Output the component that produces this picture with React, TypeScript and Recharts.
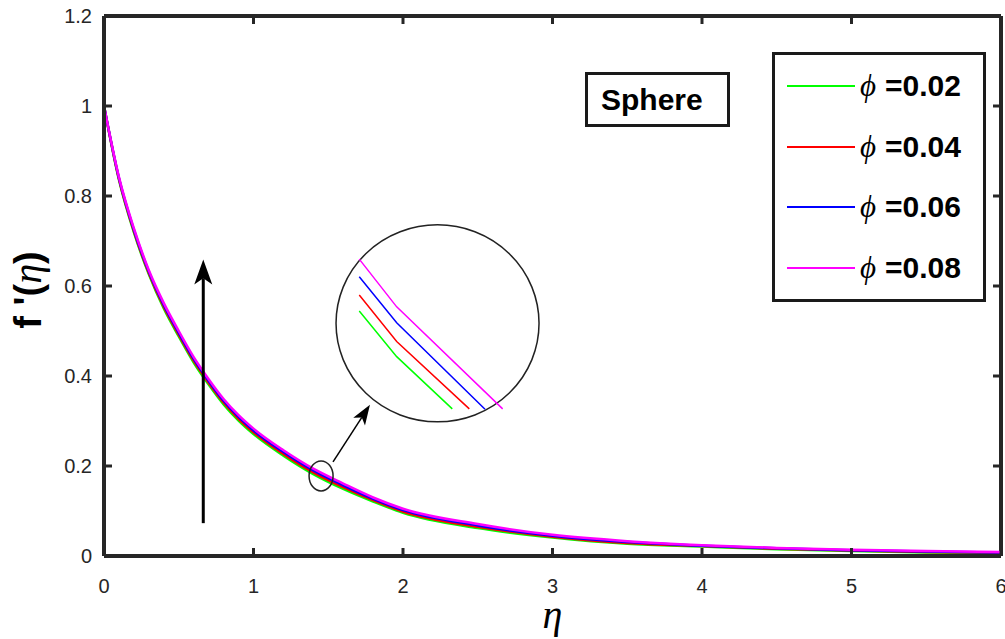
import { Label, Legend, Line, LineChart, ReferenceDot, ReferenceLine, XAxis, YAxis } from "recharts";

// similarity variable eta and f'(eta) for each volume fraction phi
const eta = [0, 0.1, 0.2, 0.3, 0.4, 0.5, 0.6, 0.7, 0.8, 0.9, 1.0, 1.2, 1.4, 1.6, 1.8, 2.0, 2.5, 3.0, 3.5, 4.0, 4.5, 5.0, 5.5, 6.0];
const phi002 = [1.0, 0.836, 0.719, 0.626, 0.55, 0.488, 0.43, 0.381, 0.337, 0.301, 0.271, 0.223, 0.182, 0.149, 0.121, 0.096, 0.062, 0.041, 0.027, 0.021, 0.015, 0.011, 0.008, 0.006];
const phi004 = [1.0, 0.838, 0.722, 0.629, 0.554, 0.492, 0.434, 0.385, 0.341, 0.305, 0.275, 0.227, 0.186, 0.153, 0.124, 0.099, 0.065, 0.043, 0.029, 0.022, 0.016, 0.012, 0.009, 0.007];
const phi006 = [1.0, 0.84, 0.725, 0.632, 0.558, 0.496, 0.438, 0.389, 0.345, 0.309, 0.279, 0.231, 0.19, 0.157, 0.127, 0.102, 0.068, 0.045, 0.031, 0.023, 0.017, 0.013, 0.01, 0.008];
const phi008 = [1.0, 0.842, 0.728, 0.635, 0.562, 0.5, 0.442, 0.393, 0.349, 0.313, 0.283, 0.235, 0.194, 0.161, 0.13, 0.105, 0.071, 0.047, 0.033, 0.024, 0.018, 0.014, 0.011, 0.009];

// magnified piece shown inside the circle (start, kink, end)
const zoomEta002 = [1.4228, 1.4595, 1.514];
const zoomEta004 = [1.4228, 1.4595, 1.5307];
const zoomEta006 = [1.4228, 1.4595, 1.5461];
const zoomEta008 = [1.4228, 1.4595, 1.5634];
const zoom002 = [0.1782, 0.167, 0.1542];
const zoom004 = [0.1821, 0.1707, 0.1542];
const zoom006 = [0.1866, 0.1753, 0.1541];
const zoom008 = [0.1909, 0.1792, 0.1542];

const xTicks = [0, 1, 2, 3, 4, 5, 6];
const yTicks = [0, 0.2, 0.4, 0.6, 0.8, 1, 1.2];

const series = [
  { key: "p002", name: "=0.02", color: "#00ff00", values: phi002, zx: zoomEta002, zy: zoom002 },
  { key: "p004", name: "=0.04", color: "#ff0000", values: phi004, zx: zoomEta004, zy: zoom004 },
  { key: "p006", name: "=0.06", color: "#0000ff", values: phi006, zx: zoomEta006, zy: zoom006 },
  { key: "p008", name: "=0.08", color: "#ff00ff", values: phi008, zx: zoomEta008, zy: zoom008 },
];

const data = eta.map((e, i) => {
  const row: Record<string, number> = { eta: e };
  series.forEach((s) => (row[s.key] = s.values[i]));
  return row;
});

const W = 1005;
const H = 639;
const M = { top: 16, right: 4, bottom: 83, left: 104 };
const PLOT_TOP = M.top;
const PLOT_BOTTOM = H - M.bottom;
const PLOT_LEFT = M.left;
const PLOT_RIGHT = W - M.right;
const TICK_LEN = 8;

const AXIS = "#262626";
const SANS = "'Liberation Sans', Arial, sans-serif";
const SERIF = "'Liberation Serif', 'DejaVu Serif', serif";

// x tick: label below + inward marks on bottom and top edges
const XTick = (props: any) => {
  const x = props.x;
  return (
    <g>
      <line x1={x} x2={x} y1={PLOT_BOTTOM} y2={PLOT_BOTTOM - TICK_LEN} stroke={AXIS} strokeWidth={3} />
      <line x1={x} x2={x} y1={PLOT_TOP} y2={PLOT_TOP + TICK_LEN} stroke={AXIS} strokeWidth={3} />
      <text x={x} y={PLOT_BOTTOM + 37} textAnchor="middle" fill={AXIS} fontSize={20} fontFamily={SANS}>
        {props.payload.value}
      </text>
    </g>
  );
};

// y tick: label left + inward marks on left and right edges
const YTick = (props: any) => {
  const y = props.y;
  return (
    <g>
      <line x1={PLOT_LEFT} x2={PLOT_LEFT + TICK_LEN} y1={y} y2={y} stroke={AXIS} strokeWidth={3} />
      <line x1={PLOT_RIGHT} x2={PLOT_RIGHT - TICK_LEN} y1={y} y2={y} stroke={AXIS} strokeWidth={3} />
      <text x={PLOT_LEFT - 12} y={y + 7} textAnchor="end" fill={AXIS} fontSize={20} fontFamily={SANS}>
        {props.payload.value}
      </text>
    </g>
  );
};

const arrow = (width: number, head: number, half: number) => (props: any) => {
  const { x1, y1, x2, y2 } = props;
  const len = Math.hypot(x2 - x1, y2 - y1) || 1;
  const ux = (x2 - x1) / len;
  const uy = (y2 - y1) / len;
  const bx = x2 - ux * head;
  const by = y2 - uy * head;
  const nx = x2 - ux * head * 0.75;
  const ny = y2 - uy * head * 0.75;
  const pts = [
    [x2, y2],
    [bx - uy * half, by + ux * half],
    [nx, ny],
    [bx + uy * half, by - ux * half],
  ]
    .map((p) => p.join(","))
    .join(" ");
  return (
    <g>
      <line x1={x1} y1={y1} x2={nx} y2={ny} stroke="#000" strokeWidth={width} />
      <polygon points={pts} fill="#000" />
    </g>
  );
};

const ellipse = (rx: number, ry: number, sw: number) => (props: any) => (
  <ellipse cx={props.cx} cy={props.cy} rx={rx} ry={ry} fill="none" stroke="#222" strokeWidth={sw} />
);

const renderLegend = (props: any) => (
  <div
    style={{
      boxSizing: "border-box",
      width: 214,
      height: 250,
      border: "3px solid #1a1a1a",
      background: "#fff",
      paddingTop: 1,
    }}
  >
    {(props.payload || []).map((p: any) => (
      <div key={p.value} style={{ height: 60.5, display: "flex", alignItems: "center" }}>
        <div style={{ marginLeft: 12, width: 68, height: 2, background: p.color }} />
        <span style={{ marginLeft: 5, fontFamily: SERIF, fontStyle: "italic", fontSize: 31, color: "#000" }}>ϕ</span>
        <span style={{ marginLeft: 9, fontFamily: SANS, fontWeight: "bold", fontSize: 30, color: "#000" }}>{p.value}</span>
      </div>
    ))}
  </div>
);

const renderYLabel = (props: any) => {
  const vb = props.viewBox || { y: PLOT_TOP, height: PLOT_BOTTOM - PLOT_TOP };
  const cy = vb.y + vb.height / 2 + 4;
  return (
    <text transform={`translate(41,${cy}) rotate(-90)`} textAnchor="middle" fill="#000" fontSize={38} fontWeight="bold" fontFamily={SANS}>
      <tspan>f '(</tspan>
      <tspan fontFamily={SERIF} fontStyle="italic" fontWeight="normal" fontSize={40}>η</tspan>
      <tspan>)</tspan>
    </text>
  );
};

const renderXLabel = (props: any) => {
  const vb = props.viewBox || { x: PLOT_LEFT, width: PLOT_RIGHT - PLOT_LEFT };
  return (
    <text x={vb.x + vb.width / 2} y={628} textAnchor="middle" fill="#000" fontSize={40} fontStyle="italic" fontFamily={SERIF}>
      η
    </text>
  );
};

const axisLine = { stroke: AXIS, strokeWidth: 4 };

export default function App() {
  return (
    <div style={{ position: "absolute", left: 0, top: 0, width: W, height: H, background: "#fff", overflow: "hidden" }}>
      <div style={{ position: "absolute", left: 0, top: 0 }}>
        <LineChart width={W} height={H} data={data} margin={{ top: M.top, right: M.right, bottom: M.bottom - 1, left: M.left - 1 }}>
          <XAxis
            dataKey="eta"
            type="number"
            domain={[0, 6]}
            ticks={xTicks}
            allowDataOverflow
            height={1}
            tickLine={false}
            tick={<XTick />}
            axisLine={axisLine}
          >
            <Label content={renderXLabel} />
          </XAxis>
          <YAxis
            type="number"
            domain={[0, 1.2]}
            ticks={yTicks}
            allowDataOverflow
            width={1}
            tickLine={false}
            tick={<YTick />}
            axisLine={axisLine}
          >
            <Label content={renderYLabel} />
          </YAxis>
          <ReferenceLine y={1.2} stroke={AXIS} strokeWidth={4} />
          <ReferenceLine x={6} stroke={AXIS} strokeWidth={4} />
          {series.map((s) => (
            <Line
              key={s.key}
              dataKey={s.key}
              name={s.name}
              type="monotone"
              stroke={s.color}
              strokeWidth={2.5}
              dot={false}
              isAnimationActive={false}
            />
          ))}
          <ReferenceLine segment={[{ x: 0.664, y: 0.073 }, { x: 0.664, y: 0.659 }]} shape={arrow(3, 25, 9)} />
          <ReferenceLine segment={[{ x: 1.532, y: 0.209 }, { x: 1.779, y: 0.336 }]} shape={arrow(1.5, 20, 7)} />
          <ReferenceDot x={1.452} y={0.178} r={13} shape={ellipse(12, 15, 1.5)} />
          <ReferenceDot x={2.231} y={0.517} r={100} shape={ellipse(101.5, 98.5, 1.5)} />
          <Legend
            layout="vertical"
            align="center"
            verticalAlign="middle"
            content={renderLegend}
            wrapperStyle={{ left: 772, top: 52, width: 214, height: 250 }}
          />
        </LineChart>
      </div>

      <div
        style={{
          position: "absolute",
          left: 585,
          top: 72,
          width: 145,
          height: 55,
          boxSizing: "border-box",
          border: "3px solid #1a1a1a",
          display: "flex",
          alignItems: "center",
          paddingLeft: 13,
          fontFamily: SANS,
          fontWeight: "bold",
          fontSize: 30,
          color: "#000",
        }}
      >
        Sphere
      </div>

      <div style={{ position: "absolute", left: 336, top: 222 }}>
        <LineChart width={204} height={204} margin={{ top: 0, right: 0, bottom: 0, left: 0 }}>
          <XAxis dataKey="x" type="number" domain={[1.4, 1.6]} allowDataOverflow hide />
          <YAxis type="number" domain={[0.15, 0.2]} allowDataOverflow hide />
          {series.map((s) => (
            <Line
              key={s.key}
              data={s.zx.map((x, i) => ({ x, y: s.zy[i] }))}
              dataKey="y"
              type="linear"
              stroke={s.color}
              strokeWidth={1.5}
              dot={false}
              isAnimationActive={false}
            />
          ))}
        </LineChart>
      </div>
    </div>
  );
}
